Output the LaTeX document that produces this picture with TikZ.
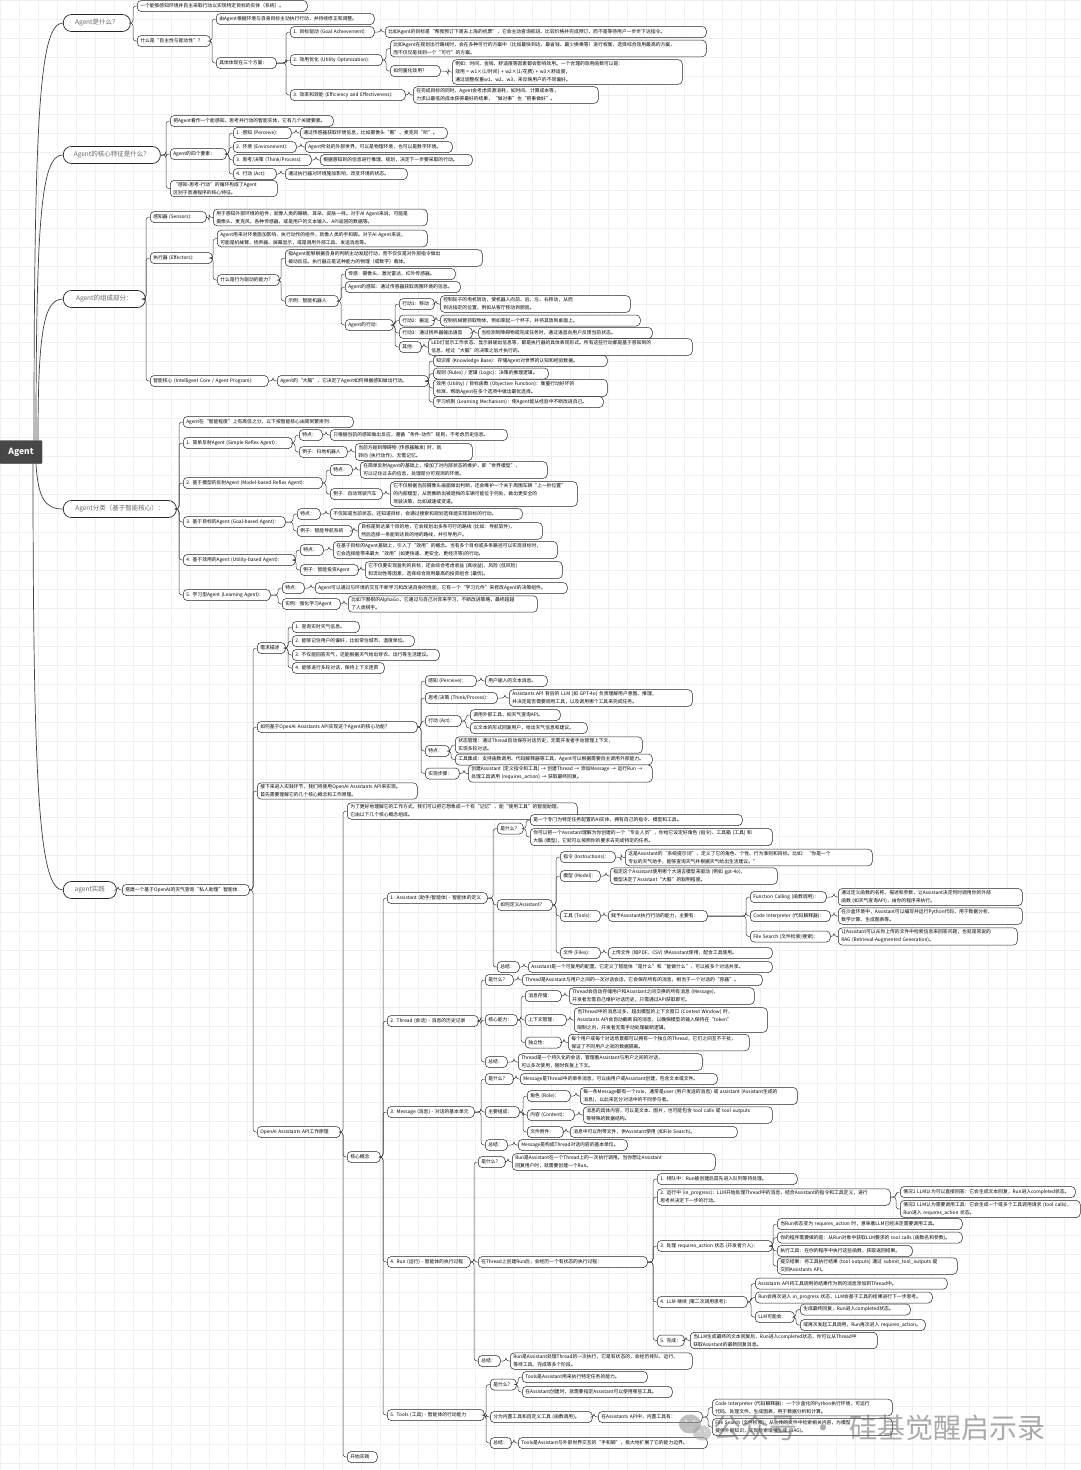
\documentclass[tikz,border=0pt]{standalone}
\usepackage{fontspec}
\setmainfont{Noto Sans CJK SC}
\XeTeXlinebreaklocale "zh"
\XeTeXlinebreakskip=0pt plus 1pt
\usetikzlibrary{calc}
\tikzset{
  bx/.style={draw=black!85, line width=0.5pt, fill=white, rounded corners=4pt, inner xsep=3pt, inner ysep=2pt, minimum height=11pt, anchor=west, align=left, font=\fontsize{4.8}{8}\selectfont, text=black},
  lone/.style={draw=black!85, line width=0.7pt, fill=white, rounded corners=8pt, minimum height=17pt, anchor=west, align=center, font=\fontsize{6.5}{8}\selectfont, text=black!60, inner xsep=3pt},
  rootbox/.style={draw=black!80, fill=black!72, text=white, font=\fontsize{8.5}{10}\selectfont\bfseries, minimum width=42pt, minimum height=23pt, inner sep=0pt, rounded corners=1pt},
  conn/.style={draw=black!75, line width=0.5pt, rounded corners=3pt},
  rconn/.style={draw=black!75, line width=0.7pt},
  gridc/.style={draw=black!6, line width=0.35pt},
}
\newcommand\nd[5]{\pgfmathsetlengthmacro\ndw{#3-#2-6}\node[bx,text width=\ndw] (#1) at (#2,#4) {#5};}
\newcommand\lo[5]{\pgfmathsetlengthmacro\ndw{#3-#2}\node[lone,minimum width=\ndw] (#1) at (#2,#4) {#5};}
\newcommand\ed[2]{\foreach \kid in {#2}{\draw[conn] (#1.east) -- ($(#1.east -| \kid.west)+(-4,0)$) |- (\kid.west);}}
\begin{document}
\begin{tikzpicture}[x=1pt,y=-1pt]
\useasboundingbox (0,0) rectangle (1080,1470);
\fill[white] (0,0) rectangle (1080,1470);
\foreach \g in {0,19,...,1080} \draw[gridc] (\g,0) -- (\g,1470);
\foreach \g in {0,19,...,1470} \draw[gridc] (0,\g) -- (1080,\g);

% root
\node[rootbox] (root) at (21,452) {Agent};

% ===== Section 1 =====
\lo{n1}{63}{130}{23}{Agent是什么？}
\nd{a1}{137}{307}{6}{一个能够感知环境并自主采取行动以实现特定目标的实体（系统）。}
\nd{a2}{137}{210}{41}{什么是“自主性与能动性”？}
\nd{a2a}{216}{374}{19}{由Agent根据环境与自身目标主动执行行动，并持续修正和调整。}
\nd{a2b}{216}{276}{63}{具体体现在三个方面：}
\nd{a2b1}{290}{374}{32}{1. 目标驱动 (Goal Achievement):}
\nd{a2b1t}{385}{706}{32}{比如Agent的目标是“帮我预订下周去上海的机票”，它会主动查询航班、比较价格并完成预订，而不是等待用户一步步下达指令。}
\nd{a2b2}{290}{382}{60}{2. 效用优化 (Utility Optimization):}
\nd{a2b2t}{390}{706}{48.5}{比如Agent在规划出行路线时，会在多种可行的方案中（比如最快到达、最省钱、最少换乘等）进行权衡，选择综合效用最高的方案，\\而不仅仅是找到一个“可行”的方案。}
\nd{a2b2q}{390}{440}{71}{如何量化效用？}
\nd{a2b2qt}{452}{682}{72}{例如：时间、金钱、舒适度等因素都会影响效用。一个合理的效用函数可以是：\\效用 = w1×(1/时间) + w2×(1/花费) + w3×舒适度，\\通过调整权重w1、w2、w3，来反映用户的不同偏好。}
\nd{a2b3}{290}{405}{95}{3. 效率和效能 (Efficiency and Effectiveness):}
\nd{a2b3t}{413}{598}{95}{在完成目标的同时，Agent会考虑资源消耗，如时间、计算成本等，\\力求以最低的成本获得最好的结果，“做对事”也“把事做好”。}

% ===== Section 2 =====
\lo{n2}{63}{160}{155}{Agent的核心特征是什么？}
\nd{b1}{170}{333}{121}{把Agent看作一个能感知、思考并行动的智能实体，它有几个关键要素。}
\nd{b2}{170}{226}{154}{Agent的四个要素：}
\nd{b2a}{233}{291}{133}{1. 感知 (Perceive):}
\nd{b2at}{300}{447}{133}{通过传感器获取环境信息，比如摄像头“看”、麦克风“听”。}
\nd{b2b}{233}{296}{147}{2. 环境 (Environment):}
\nd{b2bt}{305}{452}{147}{Agent所处的外部世界，可以是物理环境，也可以是数字环境。}
\nd{b2c}{233}{311}{160}{3. 思考/决策 (Think/Process):}
\nd{b2ct}{320}{472}{160}{根据感知到的信息进行推理、规划，决定下一步要采取的行动。}
\nd{b2d}{233}{276}{174}{4. 行动 (Act):}
\nd{b2dt}{285}{407}{174}{通过执行器对环境施加影响，改变环境的状态。}
\nd{b3}{170}{277}{188.5}{“感知-思考-行动”的循环构成了Agent\\区别于普通程序的核心特征。}

% ===== Section 3 =====
\lo{n3}{63}{145}{299}{Agent的组成部分：}
\nd{c1}{150}{206}{217}{感知器 (Sensors):}
\nd{c1t}{213}{427}{217.5}{用于感知外部环境的组件，就像人类的眼睛、耳朵、皮肤一样。对于AI Agent来说，可能是\\摄像头、麦克风、各种传感器，或是用户的文本输入、API返回的数据等。}
\nd{c2}{150}{212}{258}{执行器 (Effectors):}
\nd{c2a}{217}{427}{238.5}{Agent用来对环境施加影响、执行动作的组件，就像人类的手和脚。对于AI Agent来说，\\可能是机械臂、扬声器、屏幕显示，或是调用外部工具、发送消息等。}
\nd{c2b}{217}{279}{280}{什么是行为驱动的能力？}
\nd{c2b1}{285}{482}{258}{指Agent能够根据自身的判断主动发起行动，而不仅仅是对外部指令做出\\被动反应。执行器正是这种能力的物理（或数字）载体。}
\nd{c2b2}{285}{338}{301}{示例：智能机器人}
\nd{c2b2a}{345}{455}{274}{传感：摄像头、激光雷达、红外传感器。}
\nd{c2b2b}{345}{460}{287}{Agent的感知：通过传感器获取周围环境的信息。}
\nd{c2b2c}{345}{393}{325}{Agent的行动：}
\nd{c2b2c1}{399}{434}{304}{行动1：移动}
\nd{c2b2c1t}{440}{630}{304}{控制轮子的电机转动，使机器人向前、后、左、右移动，从而\\到达指定的位置，例如从客厅移动到厨房。}
\nd{c2b2c2}{399}{434}{320.5}{行动2：搬运}
\nd{c2b2c2t}{440}{640}{320.5}{控制机械臂抓取物体，例如拿起一个杯子，并将其放到桌面上。}
\nd{c2b2c3}{399}{472}{333}{行动3：通过扬声器输出语音}
\nd{c2b2c3t}{478}{652}{333}{当检测到障碍物或完成任务时，通过语音向用户反馈当前状态。}
\nd{c2b2c4}{399}{421}{347}{其他：}
\nd{c2b2c4t}{428}{692}{347}{LED灯显示工作状态、显示屏输出信息等，都是执行器的具体表现形式。所有这些行动都是基于感知到的\\信息，经过“大脑”的决策之后才执行的。}
\nd{c3}{150}{268}{381}{智能核心 (Intelligent Core / Agent Program):}
\nd{c3a}{277}{428}{381}{Agent的“大脑”，它决定了Agent如何根据感知做出行动。}
\nd{c3a1}{433}{607}{361}{知识库 (Knowledge Base)：存储Agent对世界的认知和经验数据。}
\nd{c3a2}{433}{548}{373.5}{规则 (Rules) / 逻辑 (Logic)：决策的推理逻辑。}
\nd{c3a3}{433}{607}{388}{效用 (Utility) / 目标函数 (Objective Function)：衡量行动好坏的\\标准，帮助Agent在多个选项中做出最优选择。}
\nd{c3a4}{433}{603}{402}{学习机制 (Learning Mechanism)：使Agent能从经验中不断改进自己。}

% ===== Section 4 =====
\lo{n4}{63}{176}{509}{Agent分类（基于智能核心）：}
\nd{d0}{183}{353}{422}{Agent在“智能程度”上有高低之分，以下按智能核心由简到繁排列：}
\nd{d1}{183}{292}{443}{1. 简单反射Agent (Simple Reflex Agent)：}
\nd{d1a}{299}{322}{435}{特点：}
\nd{d1at}{330}{507}{435}{只根据当前的感知做出反应，遵循“条件-动作”规则，不考虑历史信息。}
\nd{d1b}{299}{347}{452}{例子：扫地机器人}
\nd{d1bt}{355}{472}{452}{当前方碰到障碍物 (传感器触发) 时，就\\转向 (执行动作)，无需记忆。}
\nd{d2}{183}{322}{483}{2. 基于模型的反射Agent (Model-based Reflex Agent)：}
\nd{d2a}{330}{352}{470}{特点：}
\nd{d2at}{360}{547}{470}{在简单反射Agent的基础上，增加了对内部状态的维护，即“世界模型”，\\可以记住过去的信息，处理部分可观测的环境。}
\nd{d2b}{330}{382}{494}{例子：自动驾驶汽车}
\nd{d2bt}{390}{577}{494}{它不仅根据当前摄像头画面做出判断，还会维护一个关于周围车辆“上一秒位置”\\的内部模型，从而推断出被遮挡的车辆可能位于何处，做出更安全的\\驾驶决策，比如减速或变道。}
\nd{d3}{183}{285}{522}{3. 基于目标的Agent (Goal-based Agent)：}
\nd{d3a}{297}{320}{514}{特点：}
\nd{d3at}{330}{522}{514}{不仅知道当前状态，还知道目标，会通过搜索和规划选择能实现目标的行动。}
\nd{d3b}{297}{352}{531}{例子：智能导航系统}
\nd{d3bt}{358}{542}{531}{目标是到达某个目的地，它会规划出多条可行的路线 (比如：导航软件)，\\然后选择一条能到达目的地的路线，并引导用户。}
\nd{d4}{183}{295}{560}{4. 基于效用的Agent (Utility-based Agent)：}
\nd{d4a}{300}{323}{550}{特点：}
\nd{d4at}{333}{557}{550}{在基于目标的Agent基础上，引入了“效用”的概念。当有多个目标或多条路径可以实现目标时，\\它会选择能带来最大“效用”(如更快速、更安全、更经济等)的行动。}
\nd{d4b}{300}{358}{570}{例子：智能投资Agent}
\nd{d4bt}{365}{562}{570}{它不仅要实现盈利的目标，还会综合考虑收益 (高收益)、风险 (低风险)\\和流动性等因素，选择综合效用最高的投资组合 (最优)。}
\nd{d5}{183}{270}{595}{5. 学习型Agent (Learning Agent)：}
\nd{d5a}{282}{304}{588}{特点：}
\nd{d5at}{315}{567}{588}{Agent可以通过与环境的交互不断学习和改进自身的性能，它有一个“学习元件”来修改Agent的决策组件。}
\nd{d5b}{282}{340}{604}{实例：强化学习Agent}
\nd{d5bt}{348}{537}{604}{比如下围棋的AlphaGo，它通过与自己对弈来学习，不断改进策略，最终超越\\了人类棋手。}

% ===== Section 5 =====
\lo{n5}{63}{116}{890}{agent实践}
\nd{e0}{122}{249}{890}{搭建一个基于OpenAI的天气查询“私人助理”智能体}
\nd{e1}{257}{285}{648}{需求描述}
\nd{e1a}{292}{359}{627}{1. 查询实时天气信息。}
\nd{e1b}{292}{414}{641}{2. 能够记住用户的偏好，比如常住城市、温度单位。}
\nd{e1c}{292}{439}{655}{3. 不仅能回答天气，还能根据天气给出穿衣、出行等生活建议。}
\nd{e1d}{292}{384}{668}{4. 能够进行多轮对话，保持上下文连贯}
\nd{e2}{257}{417}{727}{如何基于OpenAI Assistants API实现这个Agent的核心功能？}
\nd{e2a}{425}{476}{681}{感知 (Perceive)：}
\nd{e2at}{485}{547}{681}{用户输入的文本消息。}
\nd{e2b}{425}{497}{698}{思考/决策 (Think/Process)：}
\nd{e2bt}{509}{692}{698}{Assistants API 背后的 LLM (如 GPT-4o) 负责理解用户意图、推理，\\并决定是否需要调用工具，以及调用哪个工具来完成任务。}
\nd{e2c}{425}{461}{721}{行动 (Act)：}
\nd{e2c1}{470}{560}{715}{调用外部工具，如天气查询API。}
\nd{e2c2}{470}{587}{728}{以文本的形式回复用户，给出天气信息和建议。}
\nd{e2d}{425}{449}{751}{特点：}
\nd{e2d1}{455}{642}{745}{状态管理：通过Thread自动保存对话历史，无需开发者手动管理上下文，\\实现多轮对话。}
\nd{e2d2}{455}{652}{759.5}{工具集成：支持函数调用、代码解释器等工具，Agent可以根据需要自主调用外部能力。}
\nd{e2e}{425}{459}{773.5}{实现步骤：}
\nd{e2et}{468}{652}{773.5}{创建Assistant (定义指令和工具) → 创建Thread → 添加Message → 运行Run →\\处理工具调用 (requires\_action) → 获取最终回复。}
\nd{e3}{257}{417}{791}{接下来进入实践环节，我们将使用OpenAI Assistants API来实现。\\首先需要理解它的几个核心概念和工作原理。}
\nd{e4}{257}{340}{1132}{OpenAI Assistants API工作原理}
\nd{f0}{347}{577}{811}{为了更好地理解它的工作方式，我们可以把它想象成一个有“记忆”、能“使用工具”的智能助理，\\它由以下几个核心概念组成。}
\nd{f1}{347}{380}{1157}{核心概念}
\nd{f2}{347}{377}{1457}{开始实践}

% 1. Assistant
\nd{g1}{387}{487}{898}{1. Assistant (助手/智能体) - 智能体的定义}
\nd{g1a}{497}{523}{828.5}{是什么？}
\nd{g1a1}{530}{742}{820}{是一个专门为特定任务配置的AI实体，拥有自己的指令、模型和工具。}
\nd{g1a2}{530}{772}{837}{你可以把一个Assistant理解为你创建的一个“专业人员”，你给它设定好角色 (指令)、工具箱 (工具) 和\\大脑 (模型)，它就可以按照你的要求去完成特定的任务。}
\nd{g1b}{497}{552}{905}{如何定义Assistant？}
\nd{g1b1}{560}{615}{857}{指令 (Instructions)：}
\nd{g1b1t}{625}{872}{857.5}{这是Assistant的“系统提示词”，定义了它的角色、个性、行为准则和目标。比如：“你是一个\\专业的天气助手，能够查询天气并根据天气给出生活建议。”}
\nd{g1b2}{560}{600}{876}{模型 (Model)：}
\nd{g1b2t}{610}{777}{876}{指定这个Assistant使用哪个大语言模型来驱动 (例如 gpt-4o)，\\模型决定了Assistant“大脑”的聪明程度。}
\nd{g1b3}{560}{600}{916}{工具 (Tools)：}
\nd{g1b3a}{608}{707}{916}{赋予Assistant执行行动的能力，主要有：}
\nd{g1b3a1}{750}{826}{897}{Function Calling (函数调用)：}
\nd{g1b3a1t}{838}{1022}{897}{通过定义函数的名称、描述和参数，让Assistant决定何时调用你的外部\\函数 (如天气查询API)，由你的程序来执行。}
\nd{g1b3a2}{750}{830}{916}{Code Interpreter (代码解释器)：}
\nd{g1b3a2t}{838}{1022}{916}{在沙盒环境中，Assistant可以编写并运行Python代码，用于数据分析、\\数学计算、生成图表等。}
\nd{g1b3a3}{750}{830}{936.5}{File Search (文件检索/搜索)：}
\nd{g1b3a3t}{838}{1017}{936.5}{让Assistant可以从你上传的文件中检索信息来回答问题，也就是常说的\\RAG (Retrieval-Augmented Generation)。}
\nd{g1b4}{560}{600}{953}{文件 (Files)：}
\nd{g1b4t}{608}{772}{953}{上传文件 (如PDF、CSV) 供Assistant使用，配合工具使用。}
\nd{g1c}{497}{519}{967}{总结：}
\nd{g1ct}{528}{772}{967}{Assistant是一个可复用的配置，它定义了智能体“是什么”和“能做什么”，可以被多个对话共享。}

% 2. Thread
\nd{g2}{387}{478}{1021}{2. Thread (会话) - 消息的历史记录}
\nd{g2a}{485}{513}{980}{是什么？}
\nd{g2at}{522}{762}{980}{Thread是Assistant与用户之间的一次对话会话，它会保存所有的消息，相当于一个对话的“容器”。}
\nd{g2b}{485}{517}{1020}{核心能力：}
\nd{g2b1}{525}{561}{996}{消息存储：}
\nd{g2b1t}{569}{754}{996}{Thread会自动存储用户和Assistant之间交换的所有消息 (Message)，\\开发者无需自己维护对话历史，只需通过API获取即可。}
\nd{g2b2}{525}{566}{1020}{上下文管理：}
\nd{g2b2t}{574}{767}{1020}{当Thread中的消息过多，超出模型的上下文窗口 (Context Window) 时，\\Assistants API会自动截断旧的消息，以确保模型的输入保持在“token”\\限制之内，开发者无需手动处理截断逻辑。}
\nd{g2b3}{525}{561}{1042.5}{独立性：}
\nd{g2b3t}{568}{749}{1042.5}{每个用户或每个对话场景都可以拥有一个独立的Thread，它们之间互不干扰，\\保证了不同用户之间的数据隔离。}
\nd{g2c}{485}{507}{1062}{总结：}
\nd{g2ct}{518}{702}{1062}{Thread是一个持久化的会话，管理着Assistant与用户之间的对话，\\可以多次使用，随时恢复上下文。}

% 3. Message
\nd{g3}{387}{474}{1112}{3. Message (消息) - 对话的基本单元}
\nd{g3a}{485}{513}{1079}{是什么？}
\nd{g3at}{520}{717}{1079}{Message是Thread中的单条消息，可以由用户或Assistant创建，包含文本或文件。}
\nd{g3b}{485}{519}{1112}{主要组成：}
\nd{g3b1}{527}{570}{1096}{角色 (Role)：}
\nd{g3b1t}{580}{797}{1096}{每一条Message都有一个role，通常是user (用户发送的消息) 或 assistant (Assistant生成的\\消息)，以此来区分对话中的不同参与者。}
\nd{g3b2}{527}{574}{1115}{内容 (Content)：}
\nd{g3b2t}{583}{772}{1115}{消息的具体内容，可以是文本、图片，也可能包含 tool calls 或 tool outputs\\等特殊的数据结构。}
\nd{g3b3}{527}{563}{1132}{文件附件：}
\nd{g3b3t}{570}{737}{1132}{消息中可以附带文件，供Assistant使用 (如File Search)。}
\nd{g3c}{485}{507}{1145}{总结：}
\nd{g3ct}{518}{627}{1145}{Message是构成Thread对话内容的基本单位。}

% 4. Run
\nd{g4}{387}{470}{1262}{4. Run (运行) - 智能体的执行过程}
\nd{g4a}{478}{505}{1162}{是什么？}
\nd{g4at}{512}{715}{1162}{Run是Assistant在一个Thread上的一次执行调用。当你想让Assistant\\回复用户时，就需要创建一个Run。}
\nd{g4b}{478}{647}{1262}{在Thread上创建Run后，会经历一个有状态的执行过程：}
\nd{g4b1}{657}{797}{1179}{1. 排队中：Run被创建后首先进入队列等待处理。}
\nd{g4b2}{657}{890}{1197}{2. 运行中 (in\_progress)：LLM开始处理Thread中的消息，结合Assistant的指令和工具定义，进行\\思考并决定下一步的行动。}
\nd{g4b2a}{900}{1075}{1192}{情况1 LLM认为可以直接回答：它会生成文本回复，Run进入completed状态。}
\nd{g4b2b}{900}{1080}{1209}{情况2 LLM认为需要调用工具：它会生成一个或多个工具调用请求 (tool calls)，\\Run进入 requires\_action 状态。}
\nd{g4b3}{657}{772}{1246}{3. 处理 requires\_action 状态 (开发者介入)：}
\nd{g4b3a}{777}{962}{1224}{当Run状态变为 requires\_action 时，意味着LLM已经决定需要调用工具。}
\nd{g4b3b}{777}{962}{1237.5}{你的程序需要做的是：从Run对象中获取LLM要求的 tool calls (函数名和参数)。}
\nd{g4b3c}{777}{912}{1251}{执行工具：在你的程序中执行这些函数，获取返回结果。}
\nd{g4b3d}{777}{957}{1266}{提交结果：将工具执行结果 (tool outputs) 通过 submit\_tool\_outputs 提\\交回Assistants API。}
\nd{g4b4}{657}{747}{1302}{4. LLM 继续 (第二次调用思考)：}
\nd{g4b4a}{755}{947}{1283.5}{Assistants API将工具调用的结果作为新的消息添加到Thread中。}
\nd{g4b4b}{755}{932}{1297.5}{Run会再次进入 in\_progress 状态，LLM会基于工具的结果进行下一步思考。}
\nd{g4b4c}{755}{794}{1317}{LLM可能会：}
\nd{g4b4c1}{800}{910}{1309.5}{生成最终回复，Run进入completed状态。}
\nd{g4b4c2}{800}{925}{1325}{或再次发起工具调用，Run再次进入 requires\_action。}
\nd{g4b5}{657}{684}{1340.5}{5. 完成：}
\nd{g4b5t}{690}{877}{1340.5}{当LLM生成最终的文本回复后，Run进入completed状态，你可以从Thread中\\获取Assistant的最新回复消息。}
\nd{g4c}{478}{500}{1361}{总结：}
\nd{g4ct}{510}{692}{1361}{Run是Assistant处理Thread的一次执行，它是有状态的，会经历排队、运行、\\等待工具、完成等多个阶段。}

% 5. Tools
\nd{g5}{387}{484}{1415}{5. Tools (工具) - 智能体的行动能力}
\nd{g5a}{490}{516}{1384.5}{是什么？}
\nd{g5a1}{522}{647}{1377}{Tools是Assistant用来执行特定任务的能力。}
\nd{g5a2}{522}{672}{1392}{在Assistant创建时，就需要指定Assistant可以使用哪些工具。}
\nd{g5b}{490}{592}{1417}{分为内置工具和自定义工具 (函数调用)。}
\nd{g5b1}{598}{702}{1417}{在Assistants API中，内置工具有：}
\nd{g5b1a}{712}{892}{1407.5}{Code Interpreter (代码解释器)：一个沙盒化的Python执行环境，可运行\\代码、处理文件、生成图表，用于数据分析和计算。}
\nd{g5b1b}{712}{892}{1427}{File Search (文件检索)：从上传的文件中检索相关内容，为模型\\提供外部知识，实现检索增强生成 (RAG)。}
\nd{g5c}{490}{511}{1443}{总结：}
\nd{g5ct}{518}{707}{1443}{Tools是Assistant与外部世界交互的“手和脚”，极大地扩展了它的能力边界。}

% ===== edges =====
\ed{n1}{a1,a2}
\ed{a2}{a2a,a2b}
\ed{a2b}{a2b1,a2b2,a2b3}
\ed{a2b1}{a2b1t}
\ed{a2b2}{a2b2t,a2b2q}
\ed{a2b2q}{a2b2qt}
\ed{a2b3}{a2b3t}
\ed{n2}{b1,b2,b3}
\ed{b2}{b2a,b2b,b2c,b2d}
\ed{b2a}{b2at}
\ed{b2b}{b2bt}
\ed{b2c}{b2ct}
\ed{b2d}{b2dt}
\ed{n3}{c1,c2,c3}
\ed{c1}{c1t}
\ed{c2}{c2a,c2b}
\ed{c2b}{c2b1,c2b2}
\ed{c2b2}{c2b2a,c2b2b,c2b2c}
\ed{c2b2c}{c2b2c1,c2b2c2,c2b2c3,c2b2c4}
\ed{c2b2c1}{c2b2c1t}
\ed{c2b2c2}{c2b2c2t}
\ed{c2b2c3}{c2b2c3t}
\ed{c2b2c4}{c2b2c4t}
\ed{c3}{c3a}
\ed{c3a}{c3a1,c3a2,c3a3,c3a4}
\ed{n4}{d0,d1,d2,d3,d4,d5}
\ed{d1}{d1a,d1b}
\ed{d1a}{d1at}
\ed{d1b}{d1bt}
\ed{d2}{d2a,d2b}
\ed{d2a}{d2at}
\ed{d2b}{d2bt}
\ed{d3}{d3a,d3b}
\ed{d3a}{d3at}
\ed{d3b}{d3bt}
\ed{d4}{d4a,d4b}
\ed{d4a}{d4at}
\ed{d4b}{d4bt}
\ed{d5}{d5a,d5b}
\ed{d5a}{d5at}
\ed{d5b}{d5bt}
\ed{n5}{e0}
\ed{e0}{e1,e2,e3,e4}
\ed{e1}{e1a,e1b,e1c,e1d}
\ed{e2}{e2a,e2b,e2c,e2d,e2e}
\ed{e2a}{e2at}
\ed{e2b}{e2bt}
\ed{e2c}{e2c1,e2c2}
\ed{e2d}{e2d1,e2d2}
\ed{e2e}{e2et}
\ed{e4}{f0,f1,f2}
\ed{f1}{g1,g2,g3,g4,g5}
\ed{g1}{g1a,g1b,g1c}
\ed{g1a}{g1a1,g1a2}
\ed{g1b}{g1b1,g1b2,g1b3,g1b4}
\ed{g1b1}{g1b1t}
\ed{g1b2}{g1b2t}
\ed{g1b3}{g1b3a}
\ed{g1b3a}{g1b3a1,g1b3a2,g1b3a3}
\ed{g1b3a1}{g1b3a1t}
\ed{g1b3a2}{g1b3a2t}
\ed{g1b3a3}{g1b3a3t}
\ed{g1b4}{g1b4t}
\ed{g1c}{g1ct}
\ed{g2}{g2a,g2b,g2c}
\ed{g2a}{g2at}
\ed{g2b}{g2b1,g2b2,g2b3}
\ed{g2b1}{g2b1t}
\ed{g2b2}{g2b2t}
\ed{g2b3}{g2b3t}
\ed{g2c}{g2ct}
\ed{g3}{g3a,g3b,g3c}
\ed{g3a}{g3at}
\ed{g3b}{g3b1,g3b2,g3b3}
\ed{g3b1}{g3b1t}
\ed{g3b2}{g3b2t}
\ed{g3b3}{g3b3t}
\ed{g3c}{g3ct}
\ed{g4}{g4a,g4b,g4c}
\ed{g4a}{g4at}
\ed{g4b}{g4b1,g4b2,g4b3,g4b4,g4b5}
\ed{g4b2}{g4b2a,g4b2b}
\ed{g4b3}{g4b3a,g4b3b,g4b3c,g4b3d}
\ed{g4b4}{g4b4a,g4b4b,g4b4c}
\ed{g4b4c}{g4b4c1,g4b4c2}
\ed{g4b5}{g4b5t}
\ed{g4c}{g4ct}
\ed{g5}{g5a,g5b,g5c}
\ed{g5a}{g5a1,g5a2}
\ed{g5b}{g5b1}
\ed{g5b1}{g5b1a,g5b1b}
\ed{g5c}{g5ct}

% root connectors
\draw[rconn] (34,440.5) .. controls (34,110) and (40,23) .. (n1.west);
\draw[rconn] (36,440.5) .. controls (36,210) and (42,155) .. (n2.west);
\draw[rconn] (38,440.5) .. controls (38,330) and (44,299) .. (n3.west);
\draw[rconn] (36,463.5) .. controls (38,498) and (45,509) .. (n4.west);
\draw[rconn] (33,463.5) .. controls (33,800) and (40,890) .. (n5.west);

% watermark
\begin{scope}[opacity=0.55]
\fill[black!45] (690,1424) ellipse [x radius=11, y radius=9.5];
\fill[black!35] (702,1433) ellipse [x radius=9, y radius=7.5];
\fill[white] (686,1421) circle (1.3) (694,1421) circle (1.3) (699,1431) circle (1) (705,1431) circle (1);
\node[anchor=west, font=\fontsize{28}{28}\selectfont, text=black!60, inner sep=0pt] (wm) at (713,1428) {公众号\hspace{12pt}·\hspace{12pt}硅基觉醒启示录};
\end{scope}
\end{tikzpicture}
\end{document}
